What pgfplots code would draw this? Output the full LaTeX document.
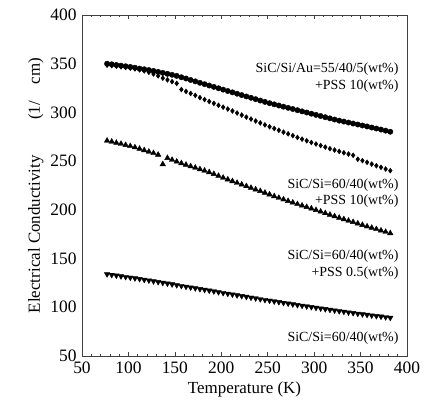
\documentclass[border=0pt]{standalone}
\usepackage{fontspec}
\setmainfont{Liberation Serif}
\usepackage{pgfplots}
\pgfplotsset{compat=1.18}
\begin{document}
\begin{tikzpicture}
\begin{axis}[
    scale only axis,
    width=325bp, height=341bp,
    xmin=50, xmax=400, ymin=50, ymax=400,
    xtick={50,100,...,400},
    ytick={50,100,...,400},
    minor x tick num=4,
    xtick pos=both,
    ytick style={draw=none},
    tick align=inside,
    major tick length=4.5bp,
    minor tick length=2.5bp,
    axis line style={black!75, line width=0.8pt},
    every tick/.style={black!75, line width=0.6pt},
    tick label style={font=\fontsize{17.5}{17.5}\selectfont},
    xticklabel style={yshift=-2bp},
    yticklabel style={xshift=-2bp},
    /pgf/number format/assume math mode=true,
    xlabel={Temperature (K)},
    ylabel={Electrical Conductivity\hspace{2.1em}(1/\hspace{1em}cm)},
    label style={font=\fontsize{17}{17}\selectfont},
    xlabel style={yshift=-2bp},
    clip=false,
]
\coordinate (ll) at (rel axis cs:0,0);

% SiC/Si/Au=55/40/5 + PSS 10
\addplot[only marks, mark=*, mark size=2.7pt, black] coordinates {
(77,350.0) (82,349.4) (87,348.7) (92,348.0) (97,347.4) (102,346.7) (107,345.9) (112,345.0)
(117,344.3) (122,343.5) (127,342.6) (132,341.6) (137,340.6) (142,339.6) (147,338.6) (152,337.5)
(157,336.1) (162,334.8) (167,333.3) (172,331.9) (177,330.4) (182,329.0) (187,327.6) (192,326.2)
(197,324.8) (202,323.4) (207,322.0) (212,320.6) (217,319.2) (222,317.8) (227,316.4) (232,315.0)
(237,313.6) (242,312.2) (247,310.8) (252,309.5) (257,308.3) (262,307.1) (267,305.9) (272,304.7)
(277,303.5) (282,302.3) (287,301.1) (292,299.9) (297,298.7) (302,297.5) (307,296.3) (312,295.1)
(317,293.9) (322,292.7) (327,291.6) (332,290.6) (337,289.6) (342,288.6) (347,287.6) (352,286.6)
(357,285.6) (362,284.5) (367,283.5) (372,282.4) (377,281.3) (382,280.2)
};

% SiC/Si=60/40 + PSS 10
\addplot[only marks, mark=diamond*, mark size=2.5pt, black] coordinates {
(77,348.5) (82,348.0) (87,347.5) (92,346.8) (97,346.2) (102,345.5) (107,344.7) (112,343.7)
(117,342.6) (122,341.2) (127,339.5) (132,337.5) (137,335.2) (142,333.4) (147,331.6) (152,329.8)
(157,323.5) (162,321.5) (167,319.5) (172,317.5) (177,315.2) (182,313.2) (187,311.2) (192,309.3)
(197,307.3) (202,305.4) (207,303.5) (212,301.5) (217,299.4) (222,297.3) (227,295.2) (232,293.2)
(237,291.2) (242,289.2) (247,287.2) (252,285.3) (257,283.5) (262,281.7) (267,279.8) (272,278.0)
(277,276.2) (282,274.3) (287,272.6) (292,270.9) (297,269.2) (302,267.6) (307,266.0) (312,264.4)
(317,262.8) (322,261.4) (327,260.0) (332,258.6) (337,257.3) (342,256.0) (347,252.0) (352,250.5)
(357,248.8) (362,247.0) (367,245.3) (372,243.7) (377,241.9) (382,240.2)
};

% SiC/Si=60/40 + PSS 0.5
\addplot[only marks, mark=triangle*, mark size=3.2pt, black] coordinates {
(77,271.0) (82,270.0) (87,268.8) (92,267.7) (97,266.6) (102,265.4) (107,264.1) (112,262.7)
(117,261.2) (122,259.7) (127,258.2) (132,256.6) (137,246.8) (142,253.2) (147,251.3) (152,249.5)
(157,247.8) (162,246.3) (167,244.7) (172,243.3) (177,241.7) (182,240.2) (187,238.6) (192,236.8)
(197,234.9) (202,233.0) (207,231.2) (212,229.4) (217,227.7) (222,226.0) (227,224.3) (232,222.6)
(237,220.9) (242,219.3) (247,217.6) (252,215.8) (257,214.0) (262,212.3) (267,210.7) (272,209.1)
(277,207.5) (282,205.9) (287,204.4) (292,202.9) (297,201.4) (302,199.8) (307,198.2) (312,196.6)
(317,195.0) (322,193.4) (327,191.9) (332,190.4) (337,188.9) (342,187.5) (347,186.0) (352,184.5)
(357,183.0) (362,181.6) (367,180.2) (372,178.8) (377,177.4) (382,176.0)
};

% SiC/Si=60/40
\addplot[only marks, mark=triangle*, mark size=3.2pt, mark options={rotate=180}, black] coordinates {
(77,134.0) (82,133.3) (87,132.6) (92,131.9) (97,131.2) (102,130.5) (107,129.8) (112,129.1)
(117,128.3) (122,127.6) (127,126.8) (132,126.0) (137,125.2) (142,124.4) (147,123.6) (152,122.8)
(157,122.0) (162,121.2) (167,120.4) (172,119.6) (177,118.8) (182,118.0) (187,117.2) (192,116.4)
(197,115.6) (202,114.8) (207,114.0) (212,113.2) (217,112.4) (222,111.6) (227,110.8) (232,110.0)
(237,109.2) (242,108.4) (247,107.6) (252,106.9) (257,106.1) (262,105.4) (267,104.6) (272,103.9)
(277,103.1) (282,102.4) (287,101.7) (292,101.0) (297,100.3) (302,99.6) (307,98.9) (312,98.2)
(317,97.5) (322,96.8) (327,96.1) (332,95.5) (337,94.8) (342,94.2) (347,93.5) (352,92.9)
(357,92.3) (362,91.7) (367,91.1) (372,90.5) (377,89.9) (382,89.3)
};

\begin{scope}[every node/.style={anchor=east, align=right, inner sep=0pt,
    font=\fontsize{14}{16.5}\selectfont}]
\node at (axis cs:391,335.9) {SiC/Si/Au=55/40/5(wt\%)\\+PSS 10(wt\%)};
\node at (axis cs:391,217.3) {SiC/Si=60/40(wt\%)\\+PSS 10(wt\%)};
\node at (axis cs:391,143.9) {SiC/Si=60/40(wt\%)\\+PSS 0.5(wt\%)};
\node at (axis cs:391,68.5) {SiC/Si=60/40(wt\%)};
\end{scope}
\end{axis}
\path (ll) ++(-82bp,-45bp) rectangle ++(432bp,401bp);
\end{tikzpicture}
\end{document}
